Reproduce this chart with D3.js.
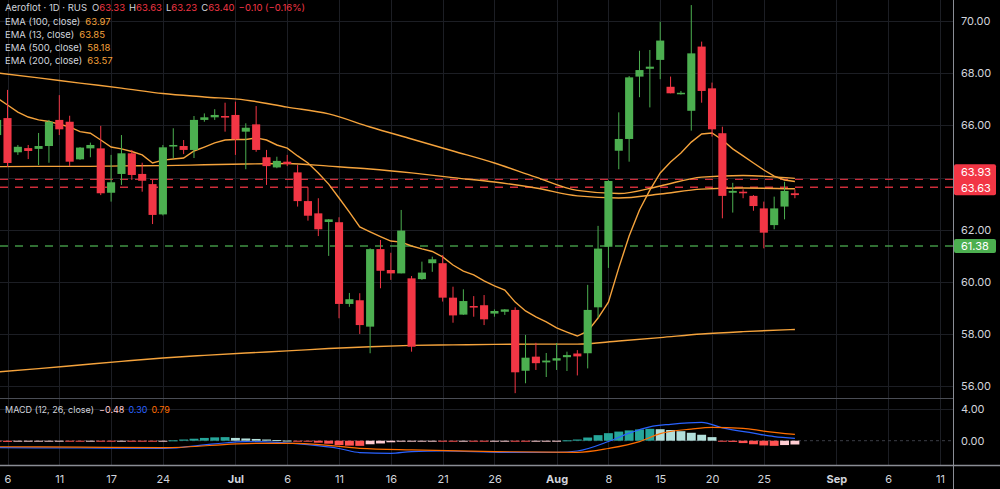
<!DOCTYPE html>
<html>
<head>
<meta charset="utf-8">
<script src="https://cdn.jsdelivr.net/npm/d3@7"></script>
<style>
  html, body { margin: 0; padding: 0; background: #000; }
  svg { display: block; font-family: Inter, "Liberation Sans", sans-serif; }
</style>
</head>
<body>
<div id="chart"></div>
<script>
// chart defaults
const width = 1000
const height = 489
const plotRight = 953
const mainBottom = 398
const macdBottom = 465
const green = '#4caf50'
const red = '#f23645'
const orange = '#f5a33c'
const textColor = '#d1d4dc'
const gridColor = '#1c1e24'

// candles (one per trading day)
const opens = [65.63,66.28,64.97,65.13,65.10,65.21,66.21,66.14,64.70,65.12,65.12,63.42,64.14,64.93,64.14,63.75,62.59,65.19,65.21,65.06,
  66.21,66.31,66.36,66.40,65.76,66.04,64.78,64.39,64.61,64.20,63.10,62.63,62.30,62.29,59.16,59.30,58.29,61.26,60.46,60.33,
  60.14,60.11,60.72,60.72,59.40,58.75,59.08,59.11,58.79,58.86,58.93,56.60,57.14,56.92,56.99,57.12,57.26,57.27,59.03,61.35,
  65.03,65.48,67.87,68.17,68.51,67.48,67.22,66.56,69.02,67.42,65.70,63.42,63.46,63.30,62.82,62.18,62.89,63.40]
const highs = [66.40,67.36,65.25,65.25,65.71,66.21,67.16,66.37,65.17,65.34,65.98,64.87,65.63,65.06,64.57,63.91,65.25,65.89,65.44,66.36,
  66.46,66.62,66.87,66.91,66.08,66.74,65.06,64.80,64.87,64.48,63.63,63.21,62.41,62.48,59.58,59.57,61.29,61.61,61.12,62.76,
  60.23,60.78,60.97,61.03,59.82,59.72,59.46,59.50,58.95,58.96,59.03,57.97,57.67,57.28,57.66,57.33,57.39,59.89,62.15,63.90,
  66.50,67.89,68.86,68.89,69.97,67.87,67.32,70.61,69.21,67.64,65.95,63.80,63.55,63.33,63.08,63.27,63.84,63.55]
const lows = [65.44,64.41,64.87,64.71,64.48,64.57,65.63,64.44,64.68,64.78,63.33,63.08,63.72,63.91,63.46,62.22,62.55,64.74,64.90,64.75,
  66.14,66.21,65.76,64.87,64.32,64.99,63.72,64.36,64.44,62.89,62.35,61.76,61.00,58.61,59.05,58.01,57.27,59.76,60.08,60.33,
  57.33,60.08,60.39,59.25,58.44,58.74,58.67,58.35,58.67,58.74,55.74,56.12,56.63,56.36,56.63,56.59,56.42,56.69,58.62,60.54,
  64.32,64.61,67.08,66.69,67.77,67.23,67.18,65.80,66.87,65.57,62.44,62.66,63.21,62.73,61.29,62.02,62.40,63.21]
const closes = [66.21,64.56,65.18,65.02,65.21,66.14,65.85,64.61,65.15,65.25,63.40,63.82,64.93,64.10,63.88,62.57,65.16,65.25,65.06,66.21,
  66.31,66.40,66.30,65.47,65.91,65.06,64.44,64.64,64.52,63.10,62.54,62.02,62.40,59.16,59.34,58.35,61.26,60.43,60.33,61.97,
  57.52,60.36,60.87,59.40,58.72,59.27,59.02,58.57,58.89,58.95,56.54,57.10,56.89,56.99,57.08,57.20,57.15,58.93,61.28,63.87,
  65.48,67.84,68.12,68.25,69.25,67.23,67.25,68.76,67.32,65.85,63.30,63.49,63.40,62.91,61.89,62.82,63.49,63.33]

// moving averages
const ema13 = [67.05,66.78,66.51,66.32,66.21,66.15,66.05,65.94,65.76,65.70,65.44,65.17,65.10,65.00,64.87,64.56,64.67,64.71,64.75,65.02,
  65.17,65.33,65.44,65.46,65.46,65.52,65.44,65.25,65.13,64.83,64.56,64.18,63.75,63.22,62.68,62.11,61.92,61.74,61.57,61.53,
  61.38,61.27,61.17,60.96,60.65,60.42,60.27,60.04,59.85,59.69,59.23,58.89,58.66,58.47,58.24,58.08,57.93,58.12,58.62,59.23,
  60.54,61.76,62.76,63.52,64.18,64.60,64.94,65.36,65.67,65.71,65.44,65.10,64.83,64.56,64.29,64.06,63.91,63.85]
const slowIdx = [0,4,8,12,16,20,24,28,32,36,40,44,48,52,56,60,64,68,72,77]
const ema100 = [68.01,67.82,67.62,67.43,67.22,67.09,66.97,66.70,66.44,65.94,65.48,65.02,64.56,64.02,63.51,63.39,63.68,64.02,64.08,63.97]
const ema200 = [64.42,64.43,64.43,64.45,64.46,64.49,64.52,64.54,64.44,64.33,64.18,64.00,63.83,63.60,63.30,63.22,63.37,63.56,63.60,63.57]
const ema500 = [56.55,56.68,56.82,56.96,57.09,57.19,57.28,57.36,57.45,57.52,57.57,57.59,57.61,57.62,57.62,57.74,57.87,58.01,58.10,58.18]

// MACD pane
const macdHist = [-0.12,-0.15,-0.12,-0.10,-0.08,-0.05,-0.03,-0.05,-0.06,-0.04,-0.08,-0.10,-0.07,-0.09,-0.10,-0.12,-0.08,0.05,0.15,0.25,
  0.35,0.42,0.45,0.35,0.28,0.22,0.15,0.08,0.02,-0.05,-0.12,-0.25,-0.38,-0.55,-0.62,-0.65,-0.45,-0.35,-0.20,-0.12,
  -0.10,-0.08,-0.05,-0.05,-0.06,-0.04,-0.05,-0.06,-0.05,-0.04,-0.08,-0.10,-0.06,-0.04,-0.02,0.05,0.15,0.40,0.70,0.95,
  1.15,1.30,1.42,1.50,1.45,1.35,1.20,1.00,0.75,0.45,-0.05,-0.15,-0.30,-0.45,-0.60,-0.65,-0.55,-0.48]
const macdIdx = [0,8,16,21,24,27,30,33,35,38,40,43,49,54,56,59,61,63,65,68,70,73,75,77]
const macdLine = [-0.88,-0.92,-0.96,-0.40,-0.12,-0.22,-0.50,-0.98,-1.50,-1.59,-1.38,-1.30,-1.47,-1.47,-1.30,-0.10,0.95,1.75,2.07,2.32,1.62,0.95,0.52,0.30]
const signalIdx = [0,8,16,25,29,35,40,48,56,59,62,64,67,69,72,74,77]
const signalLine = [-0.76,-0.82,-0.88,-0.33,-0.33,-0.96,-1.17,-1.38,-1.47,-0.98,-0.12,0.90,1.47,1.69,1.56,1.22,0.79]

// axis ticks
const priceTicks = [56, 58, 60, 62, 64, 66, 68, 70]
const macdTicks = [0, 4]
const timeTickIdx = [1, 6, 11, 16, 23, 28, 33, 38, 43, 48, 54, 59, 64, 69, 74, 81, 86, 91]
const timeTickLabels = ['6', '11', '17', '24', 'Jul', '6', '11', '16', '21', '26', 'Aug', '8', '15', '20', '25', 'Sep', '6', '11']

// price lines on the right scale
const redLines = [63.93, 63.63]
const greenLine = 61.38

const xScale = d3.scaleLinear().domain([0, 77]).range([-2.86, 794.9])
const yScale = d3.scaleLinear().domain([56, 70]).range([386.4, 21])
const macdScale = d3.scaleLinear().domain([0, 4]).range([440.7, 409])
const step = xScale(1) - xScale(0)

const svg = d3.select('#chart')
  .append('svg')
  .attr('width', width)
  .attr('height', height)
  .style('background', '#000')

const defs = svg.append('defs')
defs.append('clipPath').attr('id', 'mainClip')
  .append('rect').attr('x', 0).attr('y', 0).attr('width', plotRight).attr('height', mainBottom)
defs.append('clipPath').attr('id', 'macdClip')
  .append('rect').attr('x', 0).attr('y', mainBottom).attr('width', plotRight).attr('height', macdBottom - mainBottom)

const drawGrid = function () {
  const grid = svg.append('g').attr('stroke', gridColor).attr('stroke-width', 1)
  grid.selectAll('.hgrid')
    .data(priceTicks)
    .enter().append('line')
    .attr('x1', 0).attr('x2', plotRight)
    .attr('y1', d => Math.round(yScale(d)) + 0.5)
    .attr('y2', d => Math.round(yScale(d)) + 0.5)
  grid.selectAll('.mgrid')
    .data(macdTicks.filter(d => d !== 0))
    .enter().append('line')
    .attr('x1', 0).attr('x2', plotRight)
    .attr('y1', d => Math.round(macdScale(d)) + 0.5)
    .attr('y2', d => Math.round(macdScale(d)) + 0.5)
  grid.selectAll('.vgrid')
    .data(timeTickIdx)
    .enter().append('line')
    .attr('x1', d => Math.round(xScale(d)) + 0.5)
    .attr('x2', d => Math.round(xScale(d)) + 0.5)
    .attr('y1', 0).attr('y2', macdBottom)
}

const drawPriceLines = function () {
  const g = svg.append('g').attr('clip-path', 'url(#mainClip)')
  g.selectAll('.redline')
    .data(redLines)
    .enter().append('line')
    .attr('x1', 0).attr('x2', plotRight)
    .attr('y1', d => yScale(d)).attr('y2', d => yScale(d))
    .attr('stroke', red).attr('stroke-width', 1.3)
    .attr('stroke-dasharray', '8,7')
    .attr('opacity', 0.85)
  g.append('line')
    .attr('x1', 0).attr('x2', plotRight)
    .attr('y1', yScale(greenLine)).attr('y2', yScale(greenLine))
    .attr('stroke', green).attr('stroke-width', 1.3)
    .attr('stroke-dasharray', '8,7')
    .attr('opacity', 0.85)
}

const drawCandles = function () {
  const g = svg.append('g').attr('clip-path', 'url(#mainClip)')
  const bodyW = step * 0.78
  const candles = g.selectAll('.candle')
    .data(closes)
    .enter().append('g')
    .attr('fill', (d, i) => d >= opens[i] ? green : red)
    .attr('stroke', (d, i) => d >= opens[i] ? green : red)

  candles.append('line')
    .attr('x1', (d, i) => xScale(i)).attr('x2', (d, i) => xScale(i))
    .attr('y1', (d, i) => yScale(highs[i])).attr('y2', (d, i) => yScale(lows[i]))
    .attr('stroke-width', 1)

  candles.append('rect')
    .attr('stroke', 'none')
    .attr('x', (d, i) => xScale(i) - bodyW / 2)
    .attr('width', bodyW)
    .attr('y', (d, i) => yScale(Math.max(opens[i], d)))
    .attr('height', (d, i) => Math.max(1.5, Math.abs(yScale(opens[i]) - yScale(d))))
}

const drawEmas = function () {
  const g = svg.append('g').attr('clip-path', 'url(#mainClip)')
    .attr('fill', 'none').attr('stroke', orange).attr('stroke-width', 1.4)
  const smooth = d3.line().x(d => xScale(d[0])).y(d => yScale(d[1])).curve(d3.curveMonotoneX)
  const straight = d3.line().x((d, i) => xScale(i)).y(d => yScale(d))
  ;[ema100, ema200, ema500].forEach(series => {
    g.append('path').attr('d', smooth(slowIdx.map((k, i) => [k, series[i]])))
  })
  g.append('path').attr('d', straight(ema13))
}

const drawMacd = function () {
  const g = svg.append('g').attr('clip-path', 'url(#macdClip)')
  g.append('line')
    .attr('x1', 0).attr('x2', plotRight)
    .attr('y1', macdScale(0)).attr('y2', macdScale(0))
    .attr('stroke', '#3a3d45').attr('stroke-dasharray', '3,3')

  const barW = step * 0.86
  g.selectAll('.hist')
    .data(macdHist)
    .enter().append('rect')
    .attr('x', (d, i) => xScale(i) - barW / 2)
    .attr('width', barW)
    .attr('y', d => macdScale(Math.max(0, d)))
    .attr('height', d => Math.max(1, Math.abs(macdScale(d) - macdScale(0))))
    .attr('fill', (d, i) => {
      const prev = i > 0 ? macdHist[i - 1] : d
      if (d >= 0) return d >= prev ? '#26a69a' : '#b2dfdb'
      return d <= prev ? '#ff5252' : '#ffcdd2'
    })

  const line = d3.line().x(d => xScale(d[0])).y(d => macdScale(d[1])).curve(d3.curveMonotoneX)
  g.append('path')
    .attr('d', line(macdIdx.map((k, i) => [k, macdLine[i]])))
    .attr('fill', 'none').attr('stroke', '#2962ff').attr('stroke-width', 1.2)
  g.append('path')
    .attr('d', line(signalIdx.map((k, i) => [k, signalLine[i]])))
    .attr('fill', 'none').attr('stroke', '#ff6d00').attr('stroke-width', 1.2)
}

const drawAxis = function () {
  const priceAxis = d3.axisRight(yScale)
    .tickValues(priceTicks.filter(d => d !== 64))
    .tickFormat(d3.format('.2f'))
    .tickSize(0).tickPadding(8)
  const macdAxis = d3.axisRight(macdScale)
    .tickValues(macdTicks)
    .tickFormat(d3.format('.2f'))
    .tickSize(0).tickPadding(8)
  const timeAxis = d3.axisBottom(xScale)
    .tickValues(timeTickIdx)
    .tickFormat((d, i) => timeTickLabels[i])
    .tickSize(0).tickPadding(10)

  ;[
    svg.append('g').attr('transform', 'translate(' + plotRight + ',0)').call(priceAxis),
    svg.append('g').attr('transform', 'translate(' + plotRight + ',0)').call(macdAxis),
    svg.append('g').attr('transform', 'translate(0,' + macdBottom + ')').call(timeAxis)
  ].forEach(ax => {
    ax.select('.domain').remove()
    ax.selectAll('text')
      .attr('fill', textColor)
      .style('font-size', '11px')
      .style('font-family', 'Inter, "Liberation Sans", sans-serif')
  })
  svg.selectAll('text')
    .filter(function () { return ['Jul', 'Aug', 'Sep'].includes(this.textContent) })
    .style('font-weight', 700)

  // frame lines
  svg.append('line').attr('x1', plotRight + 0.5).attr('x2', plotRight + 0.5)
    .attr('y1', 0).attr('y2', height).attr('stroke', '#8a8d95')
  svg.append('line').attr('x1', 0).attr('x2', plotRight)
    .attr('y1', mainBottom + 0.5).attr('y2', mainBottom + 0.5).attr('stroke', '#4a4d55')
  svg.append('line').attr('x1', 0).attr('x2', width)
    .attr('y1', macdBottom + 0.5).attr('y2', macdBottom + 0.5).attr('stroke', '#8a8d95').attr('stroke-width', 1.5)
}

const drawPriceLabels = function () {
  const labelH = 15
  const lowY = yScale(redLines[1]) + 0.5
  const redY = [lowY - labelH - 1, lowY]
  svg.append('rect')
    .attr('x', plotRight + 1).attr('y', redY[0] - labelH / 2)
    .attr('width', 42).attr('height', labelH * 2 + 1)
    .attr('rx', 2).attr('fill', red)
  svg.selectAll('.redlabel')
    .data(redLines)
    .enter().append('text')
    .attr('x', plotRight + 8).attr('y', (d, i) => redY[i])
    .attr('dy', '0.35em')
    .attr('fill', '#fff').style('font-size', '11px')
    .text(d => d.toFixed(2))

  const gy = yScale(greenLine)
  svg.append('rect')
    .attr('x', plotRight + 1).attr('y', gy - 7)
    .attr('width', 42).attr('height', 14)
    .attr('rx', 2).attr('fill', green)
  svg.append('text')
    .attr('x', plotRight + 8).attr('y', gy).attr('dy', '0.35em')
    .attr('fill', '#fff').style('font-size', '11px')
    .text(greenLine.toFixed(2))
}

const drawLegend = function () {
  const header = svg.append('text').attr('x', 5).attr('y', 10.5).style('font-size', '9.5px')
  header.append('tspan').attr('fill', textColor).text('Aeroflot · 1D · RUS')
  const ohlcKeys = ['O', 'H', 'L', 'C']
  const ohlcVals = ['63.33', '63.63', '63.23', '63.40']
  ohlcKeys.forEach((k, i) => {
    header.append('tspan').attr('dx', i === 0 ? 5 : 4).attr('fill', textColor).text(k)
    header.append('tspan').attr('fill', red).text(ohlcVals[i])
  })
  header.append('tspan').attr('dx', 4).attr('fill', red).text('−0.10 (−0.16%)')

  const emaNames = ['EMA (100, close)', 'EMA (13, close)', 'EMA (500, close)', 'EMA (200, close)']
  const emaLast = ['63.97', '63.85', '58.18', '63.57']
  emaNames.forEach((name, i) => {
    const t = svg.append('text').attr('x', 5).attr('y', 24.5 + i * 13.3).style('font-size', '9.5px')
    t.append('tspan').attr('fill', textColor).text(name)
    t.append('tspan').attr('dx', 5).attr('fill', orange).text(emaLast[i])
  })

  const m = svg.append('text').attr('x', 5).attr('y', 413).style('font-size', '9px')
  m.append('tspan').attr('fill', textColor).text('MACD (12, 26, close)')
  m.append('tspan').attr('dx', 5).attr('fill', '#ffcdd2').text('−0.48')
  m.append('tspan').attr('dx', 4).attr('fill', '#2962ff').text('0.30')
  m.append('tspan').attr('dx', 4).attr('fill', '#ff6d00').text('0.79')
}

drawGrid()
drawPriceLines()
drawEmas()
drawCandles()
drawMacd()
drawAxis()
drawPriceLabels()
drawLegend()
</script>
</body>
</html>
